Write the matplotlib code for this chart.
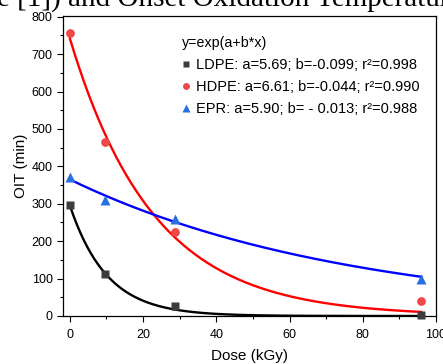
import numpy as np
import matplotlib
matplotlib.use("Agg")
import matplotlib.pyplot as plt
from matplotlib.lines import Line2D
from matplotlib.ticker import MultipleLocator

plt.rcParams['font.family'] = ['Liberation Sans', 'DejaVu Sans']

# Data
dose = [0, 9.5, 28.7, 96]
ldpe = [296, 112, 26, 3]
hdpe = [756, 464, 225, 40]
epr = [372, 310, 258, 98]

# Fit parameters y = exp(a + b*x)
fit_ldpe = (5.69, -0.099)
fit_hdpe = (6.61, -0.044)
fit_epr = (5.90, -0.013)

labels = ["LDPE: a=5.69; b=-0.099; r\u00b2=0.998",
          "HDPE: a=6.61; b=-0.044; r\u00b2=0.990",
          "EPR: a=5.90; b= - 0.013; r\u00b2=0.988"]

W, H = 443, 364
fig = plt.figure(figsize=(W / 100, H / 100), dpi=100)
ax = fig.add_axes([62.5 / W, (H - 316) / H, (436 - 62.5) / W, (316 - 16) / H])

xf = np.linspace(0, 96, 300)
for (a, b), col in [(fit_ldpe, 'black'), (fit_hdpe, '#ff0000'), (fit_epr, '#0000ff')]:
    ax.plot(xf, np.exp(a + b * xf), color=col, lw=1.7, zorder=2)

ax.plot(dose, ldpe, 's', color='#3c3c3c', ms=5.8, mec='none', zorder=3, clip_on=False)
ax.plot(dose, hdpe, 'o', color='#f04848', ms=6.3, mec='none', zorder=3, clip_on=False)
ax.plot(dose, epr, '^', color='#2a6fe0', ms=7, mec='none', zorder=3, clip_on=False)

ax.set_xlim(-2, 100)
ax.set_ylim(0, 802)
ax.xaxis.set_major_locator(MultipleLocator(20))
ax.xaxis.set_minor_locator(MultipleLocator(10))
ax.yaxis.set_major_locator(MultipleLocator(100))
ax.yaxis.set_minor_locator(MultipleLocator(50))
ax.tick_params(which='major', direction='out', length=4, width=0.8, labelsize=9, pad=3)
ax.tick_params(axis='x', which='major', pad=5)
ax.tick_params(which='minor', direction='out', length=2.5, width=0.8)
ax.tick_params(top=False, right=False)
for s in ax.spines.values():
    s.set_linewidth(0.9)

ax.set_xlabel("Dose (kGy)", fontsize=11, labelpad=6)
ax.set_ylabel("OIT (min)", fontsize=11, labelpad=3)

handles = [Line2D([], [], ls='none', marker='s', color='#3c3c3c', ms=4.5, mec='none'),
           Line2D([], [], ls='none', marker='o', color='#f04848', ms=5, mec='none'),
           Line2D([], [], ls='none', marker='^', color='#2a6fe0', ms=5.5, mec='none')]
leg = ax.legend(handles, labels, title="y=exp(a+b*x)", frameon=False,
                loc='upper left', bbox_to_anchor=((182 - 62.5) / (436 - 62.5), 1 - (36 - 16) / 300),
                fontsize=10.5, title_fontsize=10.3, handlelength=0.6, handletextpad=0.35,
                labelspacing=0.55, borderpad=0, borderaxespad=0)
leg._legend_box.align = "left"

fig.text(-3 / W, 1 - 5.5 / H, "e [1]) and Onset Oxidation Temperature",
         family='Liberation Serif', fontsize=21, va='baseline', ha='left')

fig.savefig("out.png", dpi=100)
